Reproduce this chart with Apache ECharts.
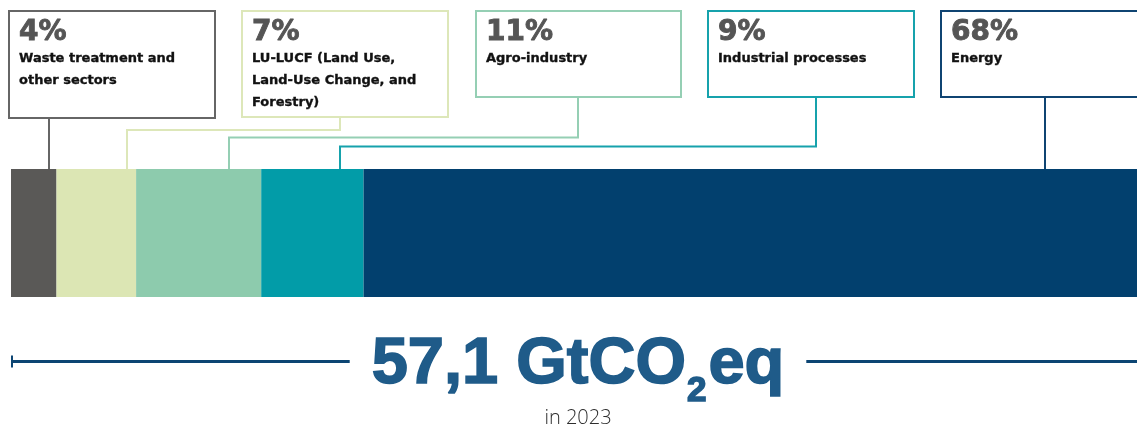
<!DOCTYPE html>
<html>
<head>
<meta charset="utf-8">
<script src="https://cdn.jsdelivr.net/npm/echarts@6/dist/echarts.min.js"></script>
<style>
  html, body { margin: 0; padding: 0; background: #ffffff; }
  #chart { width: 1137px; height: 430px; }
</style>
</head>
<body>
<div id="chart"></div>
<script>
// Greenhouse gas emissions by sector, shares of the total
const sectors = [
  'Waste treatment and\nother sectors',
  'LU-LUCF (Land Use,\nLand-Use Change, and\nForestry)',
  'Agro-industry',
  'Industrial processes',
  'Energy'
];
const shares = [4, 7, 11, 9, 68];
const totalValue = '57,1';
const totalUnit = ['GtCO', '2', 'eq'];
const totalYear = 'in 2023';

// Styling
const segmentColors = ['#5a5957', '#dce6b4', '#8dcbad', '#029ca8', '#02406e'];
const calloutColors = ['#666666', '#dde7b9', '#95cfb4', '#16a2ac', '#0f4472'];
const titleColor = '#1f5b89';
const ruleColor = '#0c4573';

// Callout boxes: left edge, width, height, level of the horizontal elbow
// (null = straight drop), x where the leader leaves the box, and where it
// lands inside its bar segment (fraction of the segment width).
const callouts = [
  { x: 9,   w: 206, h: 107, elbow: null,  anchor: null, drop: 0.835 },
  { x: 242, w: 206, h: 106, elbow: 130,   anchor: 340,  drop: 0.886 },
  { x: 476, w: 205, h: 86,  elbow: 137.5, anchor: 578,  drop: 0.743 },
  { x: 708, w: 206, h: 86,  elbow: 146.5, anchor: 816,  drop: 0.77 },
  { x: 941, w: 230, h: 86,  elbow: null,  anchor: null, drop: 0.881 }
];
const boxTop = 11;
const barTop = 169;
const barHeight = 128;

const total = shares.reduce((a, b) => a + b, 0);
const chart = echarts.init(document.getElementById('chart'), null, { renderer: 'canvas' });

chart.setOption({
  animation: false,
  grid: { left: 11, right: 0, top: barTop, height: barHeight },
  xAxis: { type: 'value', min: 0, max: total, show: false },
  yAxis: { type: 'category', data: ['2023'], show: false },
  series: sectors.map((name, i) => ({
    type: 'bar',
    name: name,
    stack: 'total',
    data: [shares[i]],
    barWidth: '100%',
    silent: true,
    itemStyle: { color: segmentColors[i] }
  }))
});

// Callouts, leaders and the total line, placed against the bar scale
const graphics = [];
let cum = 0;
shares.forEach((v, i) => {
  const c = callouts[i];
  const x0 = chart.convertToPixel({ xAxisIndex: 0 }, cum);
  const x1 = chart.convertToPixel({ xAxisIndex: 0 }, cum + v);
  cum += v;
  const dropX = Math.round(x0 + (x1 - x0) * c.drop);
  const boxBottom = boxTop + c.h;
  const anchorX = c.anchor == null ? dropX : c.anchor;
  const pts = c.elbow == null
    ? [[dropX, boxBottom], [dropX, barTop]]
    : [[anchorX, boxBottom], [anchorX, c.elbow], [dropX, c.elbow], [dropX, barTop]];

  graphics.push({
    type: 'polyline', silent: true, z: 1,
    shape: { points: pts },
    style: { stroke: calloutColors[i], lineWidth: 2, fill: null }
  });
  graphics.push({
    type: 'rect', silent: true, z: 2,
    shape: { x: c.x, y: boxTop, width: c.w, height: c.h },
    style: { fill: '#ffffff', stroke: calloutColors[i], lineWidth: 2 }
  });
  graphics.push({
    type: 'text', silent: true, z: 3,
    x: c.x + 10, y: 33,
    style: {
      text: v + '%',
      fontFamily: 'DejaVu Sans', fontWeight: 'bold', fontSize: 28,
      fill: '#555555', stroke: '#555555', lineWidth: 0.9,
      verticalAlign: 'middle', align: 'left'
    }
  });
  graphics.push({
    type: 'text', silent: true, z: 3,
    x: c.x + 10, y: 48,
    style: {
      text: sectors[i],
      fontFamily: 'DejaVu Sans', fontWeight: 'bold', fontSize: 13, lineHeight: 22,
      fill: '#111111', stroke: '#111111', lineWidth: 0.35,
      verticalAlign: 'top', align: 'left'
    }
  });
});

// Total: "57,1 GtCO₂eq" with a lowered subscript
const bigFont = 'bold 65px "Liberation Sans"';
const subFont = 'bold 35px "Liberation Sans"';
const ctx = document.createElement('canvas').getContext('2d');
ctx.font = bigFont;
const wMain = ctx.measureText(totalValue + ' ' + totalUnit[0]).width;
const wEq = ctx.measureText(totalUnit[2]).width;
ctx.font = subFont;
const wSub = ctx.measureText(totalUnit[1]).width;
const centerX = 578;
const startX = centerX - (wMain + wSub + wEq + 3) / 2;
const mainY = 365;
const subY = 391;
const titleStyle = (text, font) => ({
  text: text, font: font, fill: titleColor, stroke: titleColor, lineWidth: 1.6,
  verticalAlign: 'middle', align: 'left'
});

graphics.push({
  type: 'text', silent: true, x: startX, y: mainY,
  style: titleStyle(totalValue + ' ' + totalUnit[0], bigFont)
});
graphics.push({
  type: 'text', silent: true, x: startX + wMain + 1, y: subY,
  style: titleStyle(totalUnit[1], subFont)
});
graphics.push({
  type: 'text', silent: true, x: startX + wMain + wSub + 3, y: mainY,
  style: titleStyle(totalUnit[2], bigFont)
});
graphics.push({
  type: 'text', silent: true, x: centerX, y: 418,
  style: { text: totalYear, fontFamily: 'Open Sans', fontWeight: 300, fontSize: 20, fill: '#2e2e2e', verticalAlign: 'middle', align: 'center' }
});

// Rule across the bar width, broken by the total
const ruleY = 361.5;
const left = chart.convertToPixel({ xAxisIndex: 0 }, 0);
const right = chart.convertToPixel({ xAxisIndex: 0 }, total);
graphics.push({
  type: 'line', silent: true,
  shape: { x1: left, y1: ruleY, x2: startX - 22, y2: ruleY },
  style: { stroke: ruleColor, lineWidth: 3 }
});
graphics.push({
  type: 'line', silent: true,
  shape: { x1: left + 1, y1: ruleY - 6, x2: left + 1, y2: ruleY + 6 },
  style: { stroke: ruleColor, lineWidth: 2 }
});
graphics.push({
  type: 'line', silent: true,
  shape: { x1: startX + wMain + wSub + wEq + 25, y1: ruleY, x2: right, y2: ruleY },
  style: { stroke: ruleColor, lineWidth: 3 }
});

chart.setOption({ graphic: graphics });
</script>
</body>
</html>
